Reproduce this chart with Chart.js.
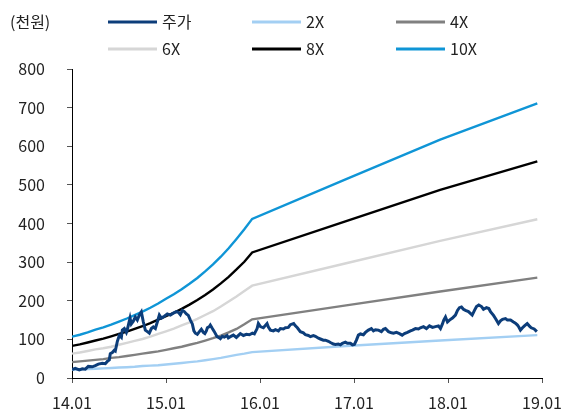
<!DOCTYPE html>
<html><head><meta charset="utf-8">
<script src="https://cdn.jsdelivr.net/npm/chart.js@4.4.0/dist/chart.umd.min.js"></script>
<style>html,body{margin:0;padding:0;background:#fff}</style>
</head><body>
<canvas id="c" width="565" height="415"></canvas>
<script>
const tickLabels = ['14.01','15.01','16.01','17.01','18.01','19.01'];
const unitLabel = '(천원)';

// band dates in months since 2014.01
const bandMonths = [0,1,2,3,4,5,6,7,8,9,10,11,12,13,14,15,16,17,18,19,20,21,22,23,35,47,59.4];
const band2X  = [21,22,23,24,25,26,27,28,29,31,32,33,35,37,39,41,43,46,49,52,56,60,63,67,83,97,111];
const band4X  = [41,43,45,47,49,52,54,57,60,63,66,69,73,77,81,86,91,97,103,110,118,127,139,152,188,224,260];
const band6X  = [63,66,70,74,77,81,86,91,96,101,107,114,121,128,136,144,153,163,173,185,198,211,225,239,297,355,411];
const band8X  = [83,87,92,97,102,108,114,120,127,134,142,151,160,169,179,190,202,215,229,245,262,281,301,325,406,487,561];
const band10X = [107,112,118,125,131,138,146,154,163,172,182,193,205,217,230,244,259,276,294,314,336,360,385,412,515,617,711];

const stockMonths = [0,0.42,0.93,1.32,1.70,2.08,2.59,2.98,3.36,3.87,4.25,4.51,4.76,4.89,5.15,5.40,5.53,5.79,6.04,6.30,6.43,6.68,6.94,7.06,7.41,7.57,7.83,8.08,8.34,8.60,8.85,9.11,9.36,9.62,9.87,10.13,10.38,10.64,10.89,11.15,11.41,11.79,12.17,12.55,12.94,13.32,13.58,13.83,14.09,14.34,14.60,14.85,15.11,15.36,15.56,15.75,16.00,16.26,16.51,16.77,16.96,17.15,17.28,17.54,17.66,17.92,18.17,18.52,18.81,18.94,19.19,19.45,19.80,19.96,20.22,20.60,20.98,21.49,21.88,22.26,22.64,23.03,23.28,23.63,23.79,24.05,24.43,24.90,25.07,25.33,25.71,25.97,26.35,26.60,26.99,27.24,27.62,27.88,28.30,28.52,28.77,29.15,29.54,29.80,30.18,30.43,30.82,31.07,31.46,31.71,32.09,32.35,32.73,32.99,33.37,33.63,34.01,34.27,34.52,34.90,35.16,35.54,35.80,36.05,36.31,36.56,36.82,37.20,37.46,37.84,38.22,38.48,38.74,39.12,39.50,39.76,40.01,40.40,40.78,41.04,41.42,41.80,42.15,42.44,42.82,43.21,43.46,43.85,44.23,44.48,44.87,45.25,45.63,46.02,46.40,46.78,47.04,47.29,47.46,47.68,47.93,48.19,48.57,48.95,49.21,49.46,49.72,49.97,50.23,50.61,51.09,51.38,51.64,51.93,52.28,52.53,52.91,53.21,53.42,53.81,54.06,54.44,54.70,54.96,55.34,55.59,55.98,56.36,56.61,56.87,57.04,57.25,57.51,57.76,58.11,58.37,58.62,59.00,59.34];
const stockPrice = [22,25,21,24,23,30,29,32,36,38,37,43,47,63,66,72,70,95,110,105,124,128,118,125,155,140,147,158,150,163,171,145,124,120,116,128,132,128,145,163,155,160,166,163,168,172,170,164,175,172,166,162,150,140,122,116,113,120,126,118,115,122,130,133,137,128,120,107,104,102,108,106,110,104,107,111,105,115,110,113,112,116,114,128,141,133,130,141,132,124,122,125,122,128,127,130,131,138,141,135,130,120,117,112,110,107,110,108,103,101,98,98,95,92,88,87,88,86,90,93,90,90,86,87,98,111,114,112,118,124,128,122,125,124,120,126,128,120,117,116,118,115,111,115,118,122,124,128,127,130,133,128,135,131,133,135,128,140,150,158,145,150,155,163,175,182,184,178,175,172,163,175,185,189,185,178,182,180,172,162,154,141,148,152,154,150,150,145,142,137,132,124,130,135,141,135,130,127,120];

const FONT = "'Noto Sans CJK KR','Noto Sans',sans-serif";
const TXT = '#222';

function pts(xs, ys){ return xs.map((x,i)=>({x:x, y:ys[i]})); }

const seriesDefs = [
  {label:'주가', color:'#0c3d7a', xs:stockMonths, ys:stockPrice, w:3},
  {label:'2X',  color:'#a3cff3', xs:bandMonths, ys:band2X,  w:2.4},
  {label:'4X',  color:'#808080', xs:bandMonths, ys:band4X,  w:2.4},
  {label:'6X',  color:'#d6d6d6', xs:bandMonths, ys:band6X,  w:2.4},
  {label:'8X',  color:'#000000', xs:bandMonths, ys:band8X,  w:2.4},
  {label:'10X', color:'#0f95d6', xs:bandMonths, ys:band10X, w:2.4}
];

const legendPlugin = {
  id:'customLegend',
  afterDraw(chart){
    const ctx = chart.ctx;
    ctx.save();
    ctx.font = '16px ' + FONT;
    ctx.fillStyle = TXT;
    ctx.textBaseline = 'middle';
    ctx.textAlign = 'left';
    ctx.fillText(unitLabel, 10, 22);
    const colX = [108, 252, 396];
    const rowY = [22, 49];
    chart.data.datasets.forEach((ds, i) => {
      const cx = colX[i % 3], cy = rowY[Math.floor(i / 3)];
      ctx.strokeStyle = ds.borderColor;
      ctx.lineWidth = 3;
      ctx.beginPath();
      ctx.moveTo(cx, cy);
      ctx.lineTo(cx + 49, cy);
      ctx.stroke();
      ctx.fillStyle = TXT;
      ctx.fillText(ds.label, cx + 54, cy);
    });
    ctx.restore();
  }
};

new Chart(document.getElementById('c'), {
  type:'line',
  data:{
    datasets: seriesDefs.map(s => ({
      label:s.label, data:pts(s.xs, s.ys), borderColor:s.color, backgroundColor:s.color,
      borderWidth:s.w, pointRadius:0, tension:0, fill:false
    }))
  },
  options:{
    responsive:false, animation:false,
    layout:{padding:{top:69, right:23, left:0, bottom:0}},
    plugins:{legend:{display:false}, tooltip:{enabled:false}},
    scales:{
      x:{
        type:'linear', min:0, max:60,
        afterFit(s){ s.height = 37; s.paddingLeft = 0; s.paddingRight = 0; },
        afterBuildTicks(s){ s.ticks = tickLabels.map((t,i)=>({value:i*12})); },
        ticks:{ callback:(v)=>tickLabels[Math.round(v/12)], font:{size:16, family:FONT}, color:TXT, padding:10, maxRotation:0, autoSkip:false },
        grid:{ drawOnChartArea:false, drawTicks:true, tickLength:5, color:'#555' },
        border:{ color:'#000', width:1 }
      },
      y:{
        min:0, max:800,
        afterFit(s){ s.width = 72; s.paddingTop = 0; s.paddingBottom = 0; },
        ticks:{ stepSize:100, font:{size:16, family:FONT}, color:TXT, padding:22 },
        grid:{ drawOnChartArea:false, drawTicks:true, tickLength:5, color:'#555' },
        border:{ color:'#000', width:1 }
      }
    }
  },
  plugins:[legendPlugin]
});
</script>
</body></html>
